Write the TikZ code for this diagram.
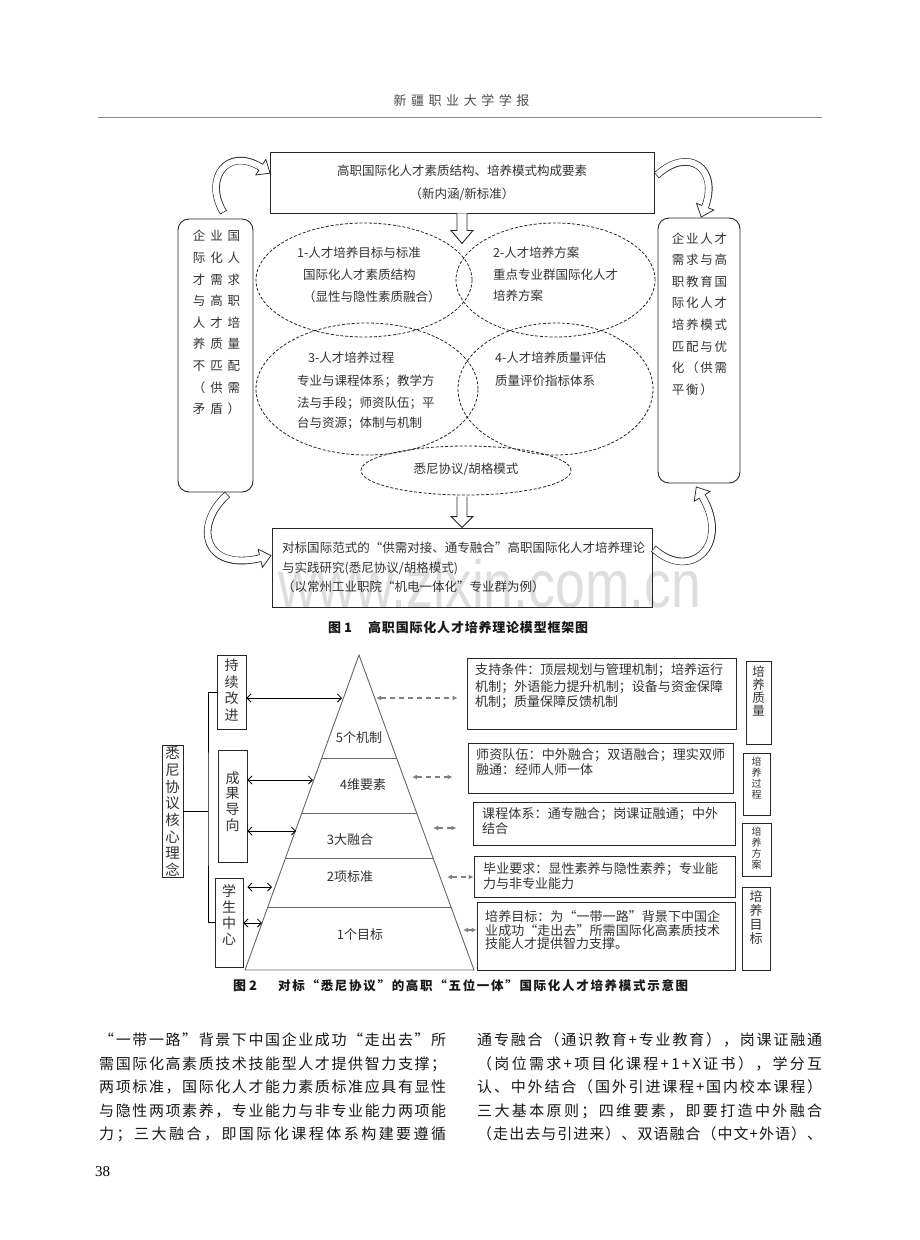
\documentclass[tikz,border=0pt]{standalone}
\usepackage{fontspec}
\setmainfont{Noto Sans CJK SC}
\newfontfamily\wmfont{Liberation Sans}
\newfontfamily\numfont{Liberation Serif}
\usetikzlibrary{shapes.geometric,arrows.meta,calc}
\newskip\sprskip \sprskip=0pt plus 1fil
\def\spr#1{\sprA#1\relax}
\def\sprA#1{#1\sprB}
\def\sprB#1{\ifx\relax#1\else\hskip\sprskip#1\expandafter\sprB\fi}
\newcommand\jl[2]{\hbox to #1{\spr{#2}}}
\newcommand\gA{\hspace{4.8pt}}
\newcommand\gB{\hspace{1.7pt}}
\newcommand\bandarrow[4]{%
 \draw[line width=7.6pt, draw=black!85, shorten >=11pt] #1 .. controls #2 and #3 .. #4;
 \draw[draw=white, line width=0.1pt, -{Triangle[length=12pt,width=20pt,fill=white,color=black!85,line width=0.75pt]}] #1 .. controls #2 and #3 .. #4;
 \draw[draw=white, line width=6.1pt, shorten >=10pt, shorten <=0.75pt] #1 .. controls #2 and #3 .. #4;
}
\tikzset{
 box/.style={draw=black!85, line width=0.9pt, inner sep=0pt},
 rbox/.style={box, rounded corners=11pt},
 dell/.style={ellipse, draw=black!85, dash pattern=on 3pt off 1.8pt, line width=0.8pt, inner sep=0pt},
 t12/.style={inner sep=0pt, text=black!80, font=\fontsize{12.5}{21.6}\selectfont},
 t13/.style={inner sep=0pt, text=black!80, font=\fontsize{13}{15.5}\selectfont},
 vt/.style={inner sep=0pt, text=black!80, align=center},
 body/.style={inner sep=0pt, text=black!90, font=\fontsize{15}{15}\selectfont, anchor=west},
 captxt/.style={inner sep=0pt, text=black!90, font=\bfseries\fontsize{13}{13}\selectfont, anchor=west},
 blockarrow/.style={draw=black!85, fill=white, line width=0.9pt, line join=miter},
 solidarr/.style={draw=black, line width=0.8pt, {Straight Barb[length=4pt,width=8pt]}-{Straight Barb[length=4pt,width=8pt]}},
 dasharr/.style={draw=black!50, line width=1.1pt, dash pattern=on 5pt off 4pt, {Latex[length=5pt,width=5pt]}-{Latex[length=5pt,width=5pt]}},
 pyr/.style={draw=black!60, line width=0.9pt}
}
\begin{document}
\begin{tikzpicture}[x=1pt,y=-1pt]
\path[fill=white] (0,0) rectangle (920,1240);
\useasboundingbox (0,0) rectangle (920,1240);

% header
\node[inner sep=0pt, text=black!70, font=\fontsize{13}{13}\selectfont] (hdr) at (461.5,101) {\jl{136pt}{新疆职业大学学报}};
\draw[black!45, line width=0.9pt] (98,117) -- (822,117);

% watermark
\node[inner sep=0pt, anchor=base, text=black!13, font=\wmfont\fontsize{67}{67}\selectfont] (wm) at (490,607) {\scalebox{0.8}[1]{www.zixin.com.cn}};

% ===== Figure 1 =====
\node[box, minimum width=384pt, minimum height=61pt, align=center, text=black!80, font=\fontsize{12.5}{23}\selectfont] (top) at (462,182.5) {高职国际化人才素质结构、培养模式构成要素\\（新内涵/新标准）};

\node[rbox, minimum width=75pt, minimum height=273pt] (lbox) at (215.5,355.5) {};
\node[t12, align=left] (ltxt) at (216.5,322.5) {企\gA 业\gA 国\\际\gA 化\gA 人\\才\gA 需\gA 求\\与\gA 高\gA 职\\人\gA 才\gA 培\\养\gA 质\gA 量\\不\gA 匹\gA 配\\（\gA 供\gA 需\\矛\gA 盾\gA ）};

\node[rbox, minimum width=82pt, minimum height=265pt] (rbox) at (699,350.5) {};
\node[t12, align=left] (rtxt) at (699.5,314) {企\gB 业\gB 人\gB 才\\需\gB 求\gB 与\gB 高\\职\gB 教\gB 育\gB 国\\际\gB 化\gB 人\gB 才\\培\gB 养\gB 模\gB 式\\匹\gB 配\gB 与\gB 优\\化\gB （\gB 供\gB 需\\平\gB 衡\gB ）};

\node[dell, minimum width=216pt, minimum height=114pt] (e1) at (364,280) {};
\node[dell, minimum width=199pt, minimum height=114pt] (e2) at (555.5,280) {};
\node[dell, minimum width=222pt, minimum height=132pt] (e3) at (367,389) {};
\node[dell, minimum width=195pt, minimum height=132pt] (e4) at (555.5,389) {};
\node[dell, minimum width=210pt, minimum height=49pt] (e5) at (466,470.5) {};

\node[t12, anchor=west] (e1a) at (297,253) {1-人才培养目标与标准};
\node[t12, anchor=west] (e1b) at (303,275) {国际化人才素质结构};
\node[t12, anchor=west] (e1c) at (303,297) {（显性与隐性素质融合）};
\node[t12, anchor=west] (e2a) at (493,253) {2-人才培养方案};
\node[t12, anchor=west] (e2b) at (493,275) {重点专业群国际化人才};
\node[t12, anchor=west] (e2c) at (493,296) {培养方案};
\node[t12, anchor=west] (e3a) at (308,358) {3-人才培养过程};
\node[t12, anchor=west] (e3b) at (297,381) {专业与课程体系；教学方};
\node[t12, anchor=west] (e3c) at (297,403) {法与手段；师资队伍；平};
\node[t12, anchor=west] (e3d) at (297,423) {台与资源；体制与机制};
\node[t12, anchor=west] (e4a) at (495,358) {4-人才培养质量评估};
\node[t12, anchor=west] (e4b) at (495,381) {质量评价指标体系};
\node[t12] (e5a) at (466,469) {悉尼协议/胡格模式};

\node[box, minimum width=380pt, minimum height=79pt] (bot) at (462,567.5) {};
\node[t12, anchor=west] (b1l) at (282,548) {\jl{363pt}{对标国际范式的“供需对接、通专融合”高职国际化人才培养理论}};
\node[t12, anchor=west] (b2l) at (282,568) {与实践研究(悉尼协议/胡格模式)};
\node[t12, anchor=west] (b3l) at (282,587) {（以常州工业职院“机电一体化”专业群为例）};

% block arrows
\draw[blockarrow] ($(top.south)+(-5,0)$) -- ++(0,17) -- ++(-6,0) -- ($(top.south)+(0,30)$) -- ($(top.south)+(11,17)$) -- ++(-6,0) -- ($(top.south)+(5,0)$);
\draw[blockarrow] ($(bot.north)+(-5,-31)$) -- ++(0,20) -- ++(-6,0) -- (bot.north) -- ($(bot.north)+(11,-11)$) -- ++(-6,0) -- ($(bot.north)+(5,-31)$);

% curved band arrows
\bandarrow{($(lbox.north)+(8,-6)$)}{(203,178)}{(228,146)}{($(top.west)+(1,-9)$)}
\bandarrow{($(top.east)+(2,-7)$)}{(688,146)}{(720,168)}{($(rbox.north)+(2,0)$)}
\bandarrow{($(lbox.south)+(12,2)$)}{(193,525)}{(203,572)}{($(bot.west)+(0,-12)$)}
\bandarrow{($(bot.east)+(1,-19)$)}{(690,582)}{(732,545)}{($(rbox.south)+(-3,3)$)}

% caption 1
\node[captxt] (c1a) at (328,628) {图\ 1};
\node[captxt] (c1b) at (368,628) {\jl{220pt}{高职国际化人才培养理论模型框架图}};

% ===== Figure 2 =====
\node[box, minimum width=21pt, minimum height=132pt] (core) at (172.5,811) {};
\node[vt, font=\fontsize{14.5}{16.7}\selectfont] (coret) at (172.5,811.5) {悉\\尼\\协\\议\\核\\心\\理\\念};

\node[box, minimum width=29pt, minimum height=74pt] (k1) at (231.5,692) {};
\node[vt, font=\fontsize{14}{16.7}\selectfont] (k1t) at (231.5,690) {持\\续\\改\\进};
\node[box, minimum width=29pt, minimum height=112pt] (k2) at (232.5,806) {};
\node[vt, font=\fontsize{14}{15.7}\selectfont] (k2t) at (232.5,801.5) {成\\果\\导\\向};
\node[box, minimum width=28pt, minimum height=89pt] (k3) at (229,922.5) {};
\node[vt, font=\fontsize{14}{16}\selectfont] (k3t) at (229,914.5) {学\\生\\中\\心};

\coordinate (bk) at (208,811);
\draw[black, line width=0.8pt] (core.east) -- (bk);
\draw[black, line width=0.8pt] (k1.west) -| (bk) |- (k3.west);

% pyramid
\coordinate (apex) at (359,655);
\coordinate (pbl) at (245,970);
\coordinate (pbr) at (474,970);
\draw[pyr] (apex) -- (pbl) -- (pbr) -- cycle;
\draw[pyr] (321.4,758) -- (396.6,758);
\draw[pyr] (301.3,813) -- (416.7,813);
\draw[pyr] (284.9,858) -- (433.1,858);
\draw[pyr] (267,907) -- (451,907);
\node[t13] (p5) at (359,738) {5个机制};
\node[t13] (p4) at (363,785) {4维要素};
\node[t13] (p3) at (350,840) {3大融合};
\node[t13] (p2) at (350,877) {2项标准};
\node[t13] (p1) at (360,935) {1个目标};

% left arrows
\coordinate (pl1) at (342,698);
\coordinate (pl2) at (313,780);
\coordinate (pl3) at (296,831);
\coordinate (pl4) at (272,887);
\coordinate (pl5) at (262,923);
\draw[solidarr] (k1.east |- pl1) -- (pl1);
\draw[solidarr] (k2.east |- pl2) -- (pl2);
\draw[solidarr] (k2.east |- pl3) -- (pl3);
\draw[solidarr] ($(k3.east |- pl4)+(4,0)$) -- (pl4);
\draw[solidarr] (k3.east |- pl5) -- (pl5);

% right boxes
\node[box, minimum width=269pt, minimum height=71pt] (q1) at (601.5,693.5) {};
\node[box, minimum width=265pt, minimum height=50pt] (q2) at (600.5,768) {};
\node[box, minimum width=262pt, minimum height=43pt] (q3) at (604,823.5) {};
\node[box, minimum width=261pt, minimum height=41pt] (q4) at (604.5,876.5) {};
\node[box, minimum width=258pt, minimum height=68pt] (q5) at (606,936) {};

\node[t13, anchor=west] (q1a) at (475,670) {\jl{248pt}{支持条件：顶层规划与管理机制；培养运行}};
\node[t13, anchor=west] (q1b) at (475,687) {\jl{248pt}{机制；外语能力提升机制；设备与资金保障}};
\node[t13, anchor=west] (q1c) at (475,702) {机制；质量保障反馈机制};
\node[t13, anchor=west] (q2a) at (476,755) {\jl{249pt}{师资队伍：中外融合；双语融合；理实双师}};
\node[t13, anchor=west] (q2b) at (476,770) {融通：经师人师一体};
\node[t13, anchor=west] (q3a) at (482,814) {\jl{236pt}{课程体系：通专融合；岗课证融通；中外}};
\node[t13, anchor=west] (q3b) at (482,829) {结合};
\node[t13, anchor=west] (q4a) at (483,869) {\jl{235pt}{毕业要求：显性素养与隐性素养；专业能}};
\node[t13, anchor=west] (q4b) at (483,884) {力与非专业能力};
\node[t13, anchor=west] (q5a) at (485,917) {\jl{235pt}{培养目标：为“一带一路”背景下中国企}};
\node[t13, anchor=west] (q5b) at (485,930.5) {\jl{235pt}{业成功“走出去”所需国际化高素质技术}};
\node[t13, anchor=west] (q5c) at (485,944) {技能人才提供智力支撑。};

% right dashed arrows
\coordinate (pr1) at (376,698);
\coordinate (pr2) at (412,777);
\coordinate (pr3) at (433,828);
\coordinate (pr4) at (447,877);
\coordinate (pr5) at (463,930);
\draw[dasharr] (pr1) -- ($(q1.west |- pr1)+(-9,0)$);
\draw[dasharr] (pr2) -- ($(q2.west |- pr2)+(-15,0)$);
\draw[dasharr] (pr3) -- ($(q3.west |- pr3)+(-16,0)$);
\draw[dasharr] (pr4) -- (q4.west |- pr4);
\draw[dasharr] (pr5) -- (q5.west |- pr5);

% vertical labels right
\node[box, minimum width=25pt, minimum height=83pt] (v1) at (758.5,702.5) {};
\node[vt, font=\fontsize{12.5}{13}\selectfont] (v1t) at (758.5,691.5) {培\\养\\质\\量};
\node[box, minimum width=27pt, minimum height=62pt] (v2) at (756.5,784) {};
\node[vt, font=\fontsize{10}{11}\selectfont] (v2t) at (756.5,778.5) {培\\养\\过\\程};
\node[box, minimum width=29pt, minimum height=53pt] (v3) at (756.5,849.5) {};
\node[vt, font=\fontsize{10}{11}\selectfont] (v3t) at (756.5,848.5) {培\\养\\方\\案};
\node[box, minimum width=28pt, minimum height=83pt] (v4) at (756,928.5) {};
\node[vt, font=\fontsize{13}{14}\selectfont] (v4t) at (756,918) {培\\养\\目\\标};

% caption 2
\node[captxt] (c2a) at (233,986) {图\ 2};
\node[captxt, font=\bfseries\fontsize{12.5}{12.5}\selectfont] (c2b) at (278,986) {\jl{410pt}{对标“悉尼协议”的高职“五位一体”国际化人才培养模式示意图}};

% body text
\node[body] (L1) at (99,1040) {\jl{347pt}{“一带一路”背景下中国企业成功“走出去”所}};
\node[body] (L2) at (99,1064) {\jl{347pt}{需国际化高素质技术技能型人才提供智力支撑；}};
\node[body] (L3) at (99,1087) {\jl{347pt}{两项标准，国际化人才能力素质标准应具有显性}};
\node[body] (L4) at (99,1111) {\jl{347pt}{与隐性两项素养，专业能力与非专业能力两项能}};
\node[body] (L5) at (99,1134) {\jl{347pt}{力；三大融合，即国际化课程体系构建要遵循}};
\node[body] (R1) at (477,1040) {\jl{345pt}{通专融合（通识教育+专业教育），岗课证融通}};
\node[body] (R2) at (477,1064) {\jl{345pt}{（岗位需求+项目化课程+1+X证书），学分互}};
\node[body] (R3) at (477,1087) {\jl{345pt}{认、中外结合（国外引进课程+国内校本课程）}};
\node[body] (R4) at (477,1111) {\jl{345pt}{三大基本原则；四维要素，即要打造中外融合}};
\node[body] (R5) at (477,1134) {\jl{345pt}{（走出去与引进来）、双语融合（中文+外语）、}};
\node[inner sep=0pt, anchor=west, font=\numfont\fontsize{15}{15}\selectfont] (pg) at (95,1172) {38};
\end{tikzpicture}
\end{document}
